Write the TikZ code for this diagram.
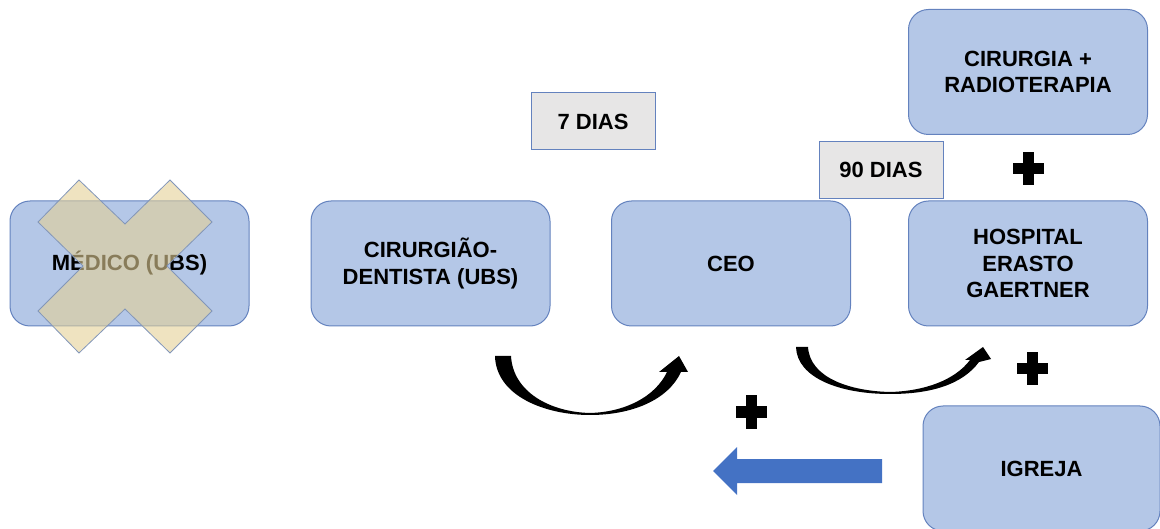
\documentclass[tikz,border=0pt]{standalone}
\usepackage{fontspec}
\setmainfont{Liberation Sans}
\definecolor{boxblue}{RGB}{180,199,231}
\definecolor{boxline}{RGB}{100,130,190}
\definecolor{daygray}{RGB}{231,230,230}
\definecolor{arrowblue}{RGB}{68,114,196}
\definecolor{crosstan}{RGB}{228,208,150}
\definecolor{crossline}{RGB}{130,150,185}
\begin{document}
\begin{tikzpicture}[x=1pt, y=-1pt,
        every node/.style={font=\bfseries\fontsize{22}{26.5}\selectfont, align=center},
        place/.style={draw=boxline, fill=boxblue, rounded corners=20pt, line width=1pt,
                minimum width=239pt, minimum height=125pt, inner sep=0pt},
        days/.style={draw=boxline, fill=daygray, line width=1pt,
                minimum width=124pt, minimum height=57pt, inner sep=0pt},
        plus/.pic={\fill (-15.5,-5.5) rectangle (15.5,5.5);
                \fill (-5.5,-16.5) rectangle (5.5,16.5);}]
        \useasboundingbox (0, 0) rectangle (1160, 529);
        \draw   (129.5, 263.5) node[place] (medico) {MÉDICO (UBS)}
                (430.5, 263.5) node[place] (dentista) {CIRURGIÃO-\\DENTISTA (UBS)}
                (731, 263.5) node[place] (ceo) {CEO}
                (1028, 263.5) node[place] (hospital) {HOSPITAL\\ERASTO\\GAERTNER}
                (1028, 72) node[place] (cirurgia) {CIRURGIA +\\RADIOTERAPIA}
                (1041.5, 468.5) node[place, minimum width=237pt] (igreja) {IGREJA}
                (593, 121.5) node[days] (dias7) {7 DIAS}
                (881, 170) node[days] (dias90) {90 DIAS}
                ;
        % cross over the first box
        \filldraw[fill=crosstan, fill opacity=0.6, draw=crossline, line width=0.8pt]
                (79, 180) -- (125, 224) -- (170, 180) -- (212, 222) -- (167, 266)
                -- (212, 311) -- (170, 353) -- (125, 309) -- (79, 353) -- (38, 311)
                -- (83, 266) -- (38, 222) -- cycle;
        % curved arrows
        \fill (495, 356) -- (511, 356) .. controls (513, 392) and (550, 412) .. (590, 413)
                .. controls (625, 412) and (655, 397) .. (667, 372) -- (659, 372)
                -- (679, 356) -- (688, 372) -- (681, 372)
                .. controls (668, 400) and (632, 415) .. (590, 415)
                .. controls (545, 415) and (496, 396) .. (495, 356) -- cycle;
        \fill (796, 347) -- (808, 347) .. controls (810, 378) and (850, 391) .. (890, 392)
                .. controls (925, 391) and (955, 380) .. (970, 360) -- (965, 360)
                -- (983, 347) -- (991, 359) -- (979, 362)
                .. controls (962, 385) and (930, 394) .. (890, 394)
                .. controls (840, 394) and (797, 378) .. (796, 347) -- cycle;
        % block arrow back
        \fill[arrowblue] (882, 459) -- (737, 459) -- (737, 447) -- (713, 471)
                -- (737, 495) -- (737, 483) -- (882, 483) -- cycle;
        \pic at (1028, 169) {plus};
        \pic at (1032, 369) {plus};
        \pic at (751, 412) {plus};
    \end{tikzpicture}
\end{document}
